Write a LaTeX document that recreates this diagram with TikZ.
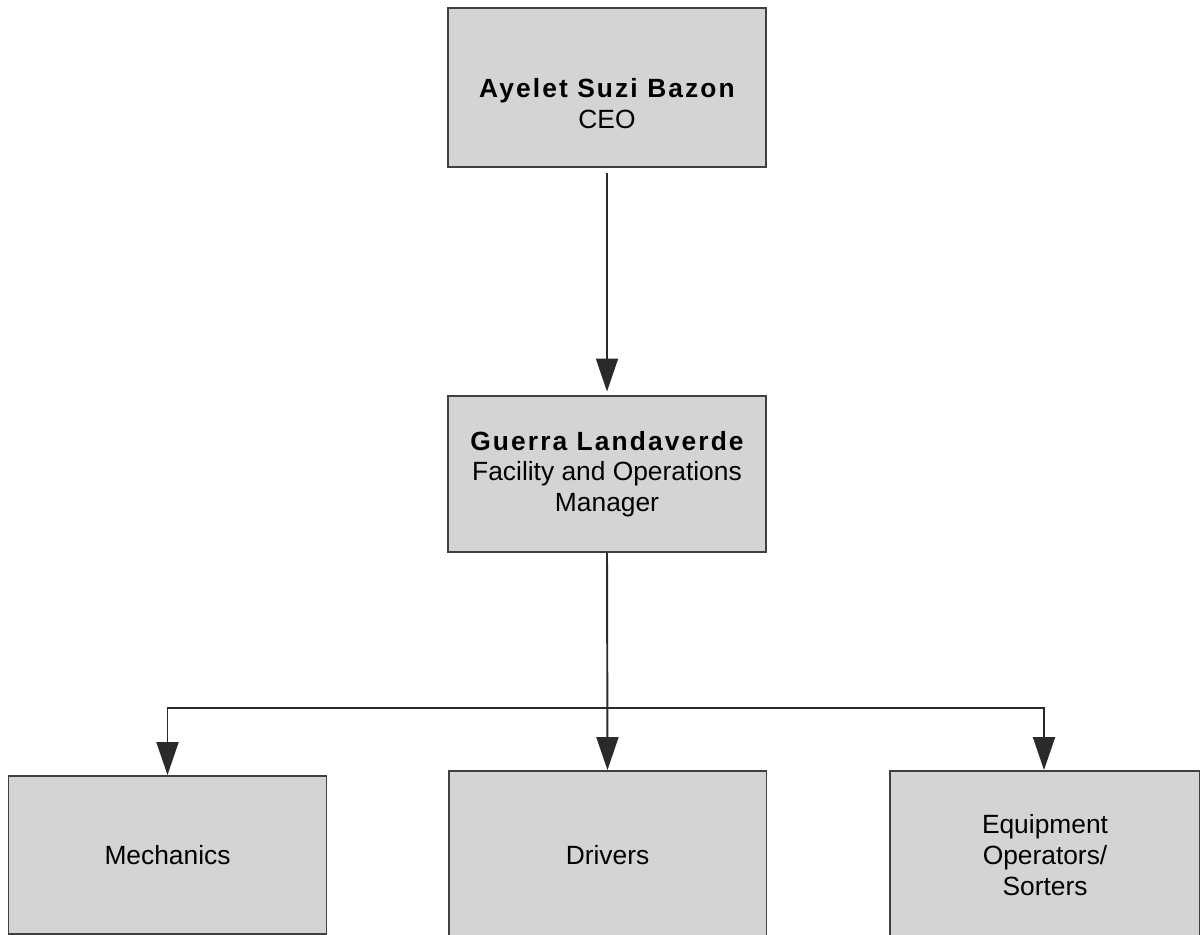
\documentclass[tikz,border=0pt]{standalone}
\usepackage{fontspec}
\setmainfont{Liberation Sans}
\newfontfamily\namefont[LetterSpace=8]{Liberation Sans}
\usepackage{tikz}
\usetikzlibrary{positioning, arrows.meta, calc}

\definecolor{boxfill}{HTML}{D4D4D4}
\definecolor{boxline}{HTML}{404040}
\definecolor{wire}{HTML}{2A2A2A}

\tikzset{
    orgbox/.style={draw=boxline, line width=1.1pt, fill=boxfill, align=center,
        minimum width=6.36cm, inner sep=0pt,
        font=\fontsize{15}{17.5}\selectfont},
    link/.style={draw=wire, line width=1.1pt,
        -{Triangle[length=0.66cm, width=0.44cm]}}
}
\newcommand{\who}[1]{{\namefont\bfseries #1}}

\begin{document}
\begin{tikzpicture}[x=0.02cm, y=-0.02cm]
    \useasboundingbox (0,0) rectangle (1200,935);

    % Top level
    \node[orgbox, minimum height=3.18cm] (ceo) at (607,87.5) {\mbox{}\\[12pt]\who{Ayelet Suzi Bazon}\\CEO};

    % Manager
    \node[orgbox, minimum height=3.12cm] (mgr) at (607,474) {\who{Guerra Landaverde}\\Facility and Operations\\Manager};

    % Staff groups
    \node[orgbox, minimum height=3.16cm] (mech) at (167.5,855) {Mechanics};
    \node[orgbox, minimum height=3.36cm] (drv) at (607.5,855) {Drivers};
    \node[orgbox, minimum height=3.36cm, minimum width=6.2cm] (equip) at (1045,855) {Equipment\\Operators/\\Sorters};

    % Connectors
    \coordinate (bus) at (607,708);
    \draw[link, shorten <=3pt, shorten >=2pt] (ceo.south) -- (mgr.north);
    \draw[link] (mgr.south) -- (drv.north);
    \draw[link] (bus) -| (mech.north);
    \draw[link] (bus) -| ([xshift=-0.02cm]equip.north);
\end{tikzpicture}
\end{document}
